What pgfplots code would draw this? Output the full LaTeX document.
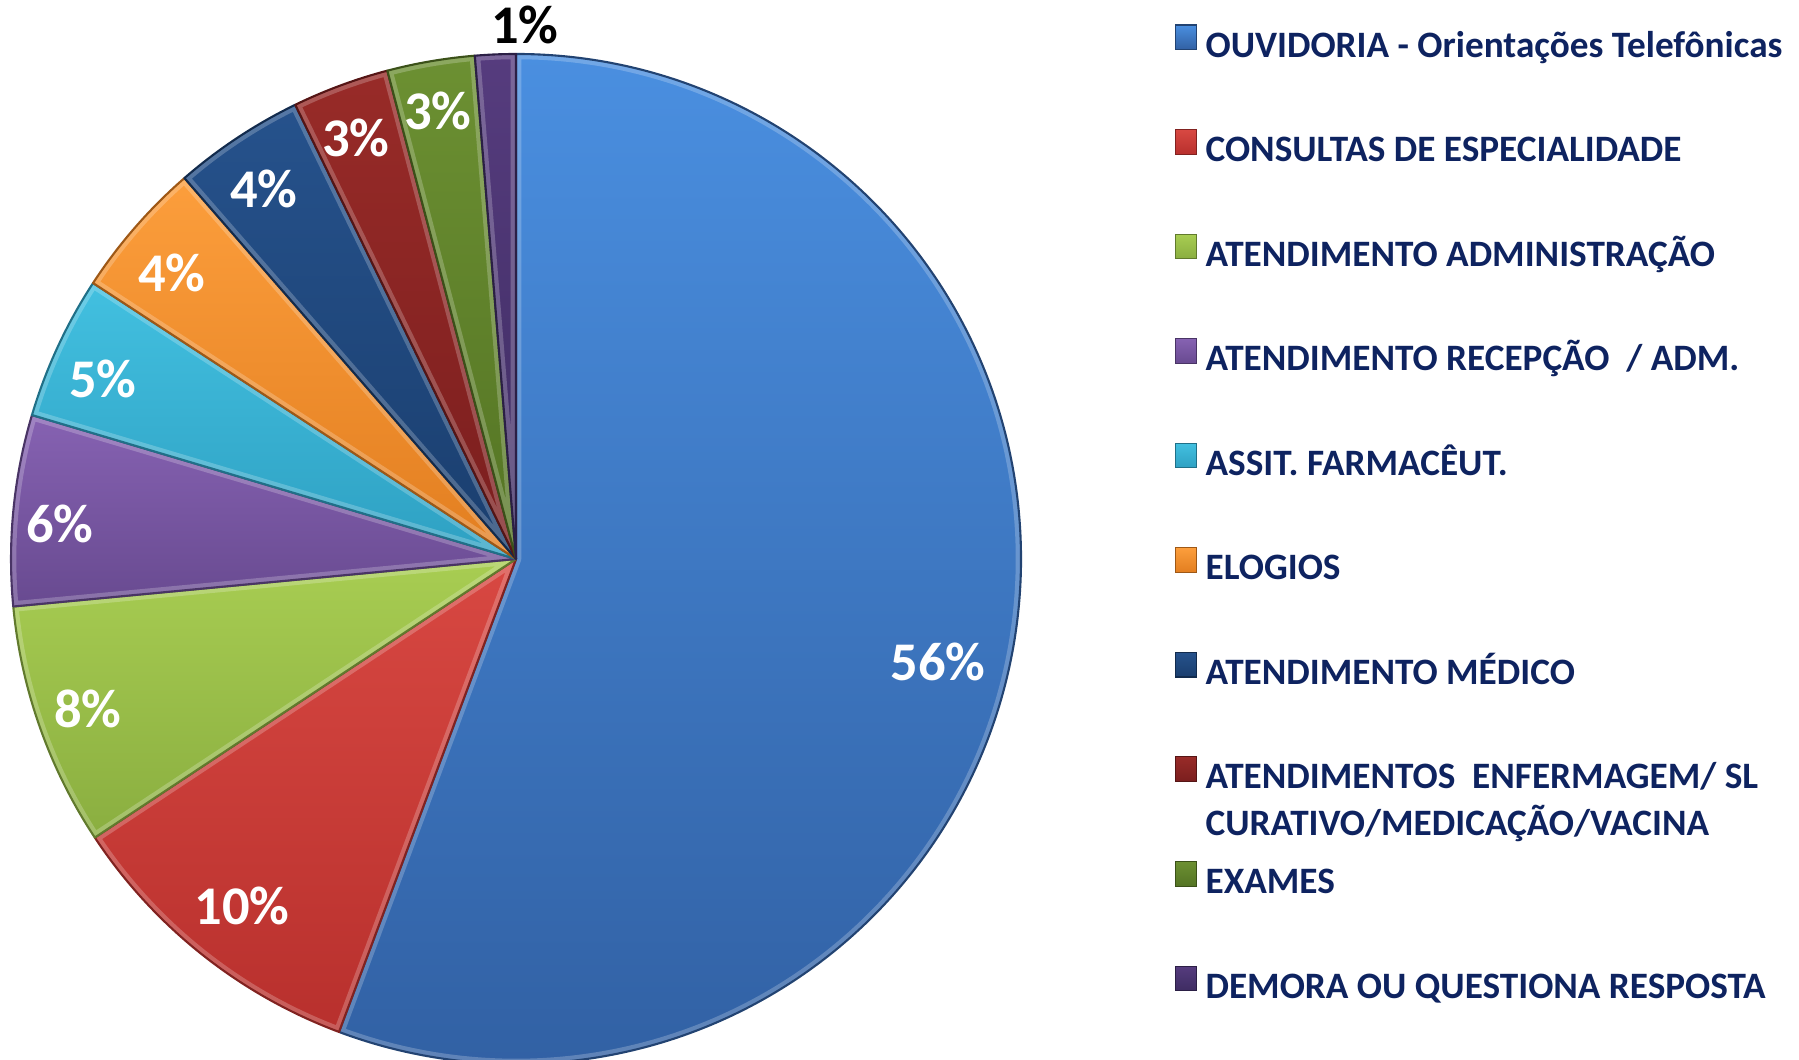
\documentclass[border=0pt]{standalone}
\usepackage{pgfplots}
\pgfplotsset{compat=1.18}
\usepackage{pgfplotstable}
\usepackage{fontspec}
\setmainfont{Carlito}

\definecolor{legtext}{RGB}{14,35,96}
\definecolor{c1t}{RGB}{74,143,224}\definecolor{c1b}{RGB}{49,96,163}
\definecolor{c2t}{RGB}{216,72,66}\definecolor{c2b}{RGB}{184,48,45}
\definecolor{c3t}{RGB}{168,205,82}\definecolor{c3b}{RGB}{138,174,64}
\definecolor{c4t}{RGB}{134,98,178}\definecolor{c4b}{RGB}{104,74,144}
\definecolor{c5t}{RGB}{66,192,224}\definecolor{c5b}{RGB}{46,160,194}
\definecolor{c6t}{RGB}{252,158,60}\definecolor{c6b}{RGB}{226,126,32}
\definecolor{c7t}{RGB}{38,82,140}\definecolor{c7b}{RGB}{26,62,110}
\definecolor{c8t}{RGB}{152,43,40}\definecolor{c8b}{RGB}{122,30,30}
\definecolor{c9t}{RGB}{108,144,50}\definecolor{c9b}{RGB}{84,116,36}
\definecolor{c10t}{RGB}{86,60,126}\definecolor{c10b}{RGB}{62,44,98}

% shares (percent)
\pgfplotstableread{
pct
55.7
10.0
7.8
6.1
4.6
4.4
4.2
3.1
2.8
1.3
}\piedata

\newcommand\slicepath[1]{(axis cs:5.16,5.01) -- ++(\csname sA#1\endcsname:5.05cm)
   arc[start angle=\csname sA#1\endcsname, end angle=\csname sB#1\endcsname, radius=5.05cm] -- cycle}
\newcommand\slice[3]{%
  \path[top color=#2, bottom color=#3] \slicepath{#1};
  \begin{scope}
  \clip \slicepath{#1};
  \draw[white, opacity=0.22, line width=3pt, line join=round] \slicepath{#1};
  \end{scope}
  \draw[#3!70!black, line width=0.6pt, line join=round] \slicepath{#1};}

\begin{document}
\begin{tikzpicture}
\xdef\angcum{90}
\foreach \i in {0,...,9}{%
  \pgfplotstablegetelem{\i}{pct}\of\piedata
  \pgfmathsetmacro{\angnew}{\angcum-3.6*\pgfplotsretval}%
  \expandafter\xdef\csname sA\i\endcsname{\angcum}%
  \expandafter\xdef\csname sB\i\endcsname{\angnew}%
  \xdef\angcum{\angnew}%
}
\begin{axis}[name=ax, x=1cm, y=1cm, xmin=0, xmax=17.99, ymin=0, ymax=10.60,
  hide axis, clip=true,
  legend cell align=left,
  legend image code/.code={\path[#1] (0pt,-0.4pt) rectangle (6pt,6.6pt);},
  legend style={at={(axis cs:11.75,10.355)}, anchor=north west, draw=none, fill=none,
    inner sep=0pt, outer sep=0pt, row sep=18.5pt, column sep=2.4pt,
    font=\fontsize{10.6}{12.7}\selectfont\bfseries\color{legtext},
    nodes={inner sep=0pt, text height=7pt, text depth=2pt}},
]
\slice{0}{c1t}{c1b}
\slice{1}{c2t}{c2b}
\slice{2}{c3t}{c3b}
\slice{3}{c4t}{c4b}
\slice{4}{c5t}{c5b}
\slice{5}{c6t}{c6b}
\slice{6}{c7t}{c7b}
\slice{7}{c8t}{c8b}
\slice{8}{c9t}{c9b}
\slice{9}{c10t}{c10b}

\begin{scope}[every node/.style={font=\fontsize{15.5}{18}\selectfont\bfseries, text=white, inner sep=0pt}]
\node at (axis cs:9.38,3.98) {56\%};
\node at (axis cs:2.42,1.54) {10\%};
\node at (axis cs:0.88,3.51) {8\%};
\node at (axis cs:0.60,5.36) {6\%};
\node at (axis cs:1.03,6.81) {5\%};
\node at (axis cs:1.72,7.87) {4\%};
\node at (axis cs:2.64,8.71) {4\%};
\node at (axis cs:3.56,9.22) {3\%};
\node at (axis cs:4.38,9.49) {3\%};
\node[text=black] at (axis cs:5.25,10.35) {1\%};
\end{scope}

\addlegendimage{top color=c1t, bottom color=c1b, draw=c1b!70!black, line width=0.3pt}
\addlegendentry{OUVIDORIA - Orientações Telefônicas}
\addlegendimage{top color=c2t, bottom color=c2b, draw=c2b!70!black, line width=0.3pt}
\addlegendentry{CONSULTAS DE ESPECIALIDADE}
\addlegendimage{top color=c3t, bottom color=c3b, draw=c3b!70!black, line width=0.3pt}
\addlegendentry{ATENDIMENTO ADMINISTRAÇÃO}
\addlegendimage{top color=c4t, bottom color=c4b, draw=c4b!70!black, line width=0.3pt}
\addlegendentry{ATENDIMENTO RECEPÇÃO\ \ / ADM.}
\addlegendimage{top color=c5t, bottom color=c5b, draw=c5b!70!black, line width=0.3pt}
\addlegendentry{ASSIT. FARMACÊUT.}
\addlegendimage{top color=c6t, bottom color=c6b, draw=c6b!70!black, line width=0.3pt}
\addlegendentry{ELOGIOS}
\addlegendimage{top color=c7t, bottom color=c7b, draw=c7b!70!black, line width=0.3pt}
\addlegendentry{ATENDIMENTO MÉDICO}
\addlegendimage{top color=c8t, bottom color=c8b, draw=c8b!70!black, line width=0.3pt}
\addlegendentry{\begin{tabular}[t]{@{}l@{}}ATENDIMENTOS\ \ ENFERMAGEM/ SL\\[0.5pt]CURATIVO/MEDICAÇÃO/VACINA\end{tabular}}
\addlegendimage{top color=c9t, bottom color=c9b, draw=c9b!70!black, line width=0.3pt}
\addlegendentry{EXAMES}
\addlegendimage{top color=c10t, bottom color=c10b, draw=c10b!70!black, line width=0.3pt}
\addlegendentry{DEMORA OU QUESTIONA RESPOSTA}
\end{axis}
\pgfresetboundingbox
\path (ax.south west) rectangle (ax.north east);
\end{tikzpicture}
\end{document}
